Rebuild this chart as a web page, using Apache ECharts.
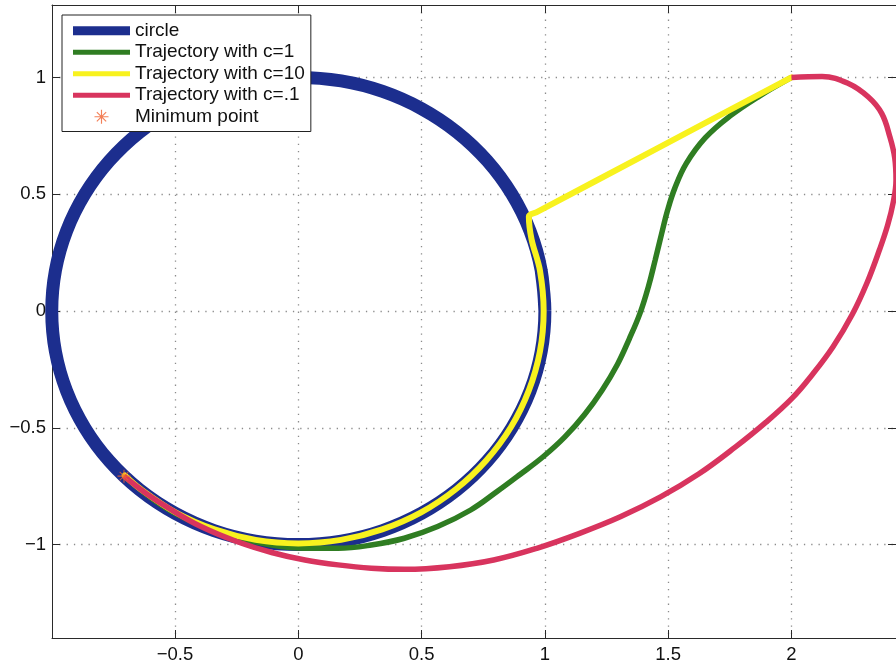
<!DOCTYPE html>
<html>
<head>
<meta charset="utf-8">
<script src="https://cdn.jsdelivr.net/npm/echarts@6/dist/echarts.min.js"></script>
<style>
  html, body { margin: 0; padding: 0; background: #fff; }
  #chart { width: 896px; height: 666px; }
</style>
</head>
<body>
<div id="chart"></div>
<script>
// Tick positions on both axes
const xTicks = [-0.5, 0, 0.5, 1, 1.5, 2];
const yTicks = [-1, -0.5, 0, 0.5, 1];

// Unit circle, 10 degree steps
const circlePts = [
  [1, 0], [0.985, 0.174], [0.940, 0.342], [0.866, 0.5], [0.766, 0.643], [0.643, 0.766],
  [0.5, 0.866], [0.342, 0.940], [0.174, 0.985], [0, 1], [-0.174, 0.985], [-0.342, 0.940],
  [-0.5, 0.866], [-0.643, 0.766], [-0.766, 0.643], [-0.866, 0.5], [-0.940, 0.342], [-0.985, 0.174],
  [-1, 0], [-0.985, -0.174], [-0.940, -0.342], [-0.866, -0.5], [-0.766, -0.643], [-0.643, -0.766],
  [-0.5, -0.866], [-0.342, -0.940], [-0.174, -0.985], [0, -1], [0.174, -0.985], [0.342, -0.940],
  [0.5, -0.866], [0.643, -0.766], [0.766, -0.643], [0.866, -0.5], [0.940, -0.342], [0.985, -0.174],
  [1, 0], [0.985, 0.174]
];

// Trajectory with c=1
const trajC1 = [
  [2.0, 1.0], [1.870, 0.920], [1.750, 0.834], [1.650, 0.741], [1.573, 0.631], [1.527, 0.526],
  [1.497, 0.429], [1.473, 0.329], [1.447, 0.217], [1.420, 0.105], [1.386, -0.009], [1.342, -0.120],
  [1.294, -0.229], [1.232, -0.339], [1.161, -0.443], [1.081, -0.539], [0.994, -0.623], [0.899, -0.700],
  [0.806, -0.773], [0.699, -0.852], [0.565, -0.923], [0.430, -0.973], [0.296, -1.002], [0.161, -1.016],
  [0.027, -1.016], [-0.108, -1.002], [-0.25, -0.968], [-0.40, -0.917], [-0.55, -0.835], [-0.707, -0.707]
];

// Trajectory with c=10
const trajC10 = [
  [2.0, 1.0], [1.45, 0.693], [0.965, 0.422], [0.935, 0.405], [0.946, 0.307], [0.980, 0.173],
  [0.995, 0.0], [0.980, -0.173], [0.935, -0.340], [0.862, -0.498], [0.762, -0.640], [0.640, -0.762],
  [0.498, -0.862], [0.340, -0.935], [0.173, -0.980], [0.0, -0.995], [-0.173, -0.980], [-0.340, -0.935],
  [-0.498, -0.862], [-0.640, -0.762], [-0.704, -0.704]
];

// Trajectory with c=.1
const trajC01 = [
  [2.0, 1.0], [2.124, 1.004], [2.231, 0.974], [2.312, 0.916], [2.366, 0.846], [2.399, 0.746],
  [2.419, 0.655], [2.424, 0.560], [2.413, 0.467], [2.390, 0.367], [2.357, 0.262], [2.307, 0.122],
  [2.247, -0.014], [2.168, -0.154], [2.081, -0.277], [2.004, -0.372], [1.897, -0.476], [1.772, -0.583],
  [1.625, -0.697], [1.469, -0.796], [1.306, -0.881], [1.138, -0.953], [0.967, -1.016], [0.792, -1.066],
  [0.613, -1.095], [0.431, -1.106], [0.296, -1.101], [0.161, -1.087], [0.027, -1.066], [-0.108, -1.034],
  [-0.25, -0.987], [-0.395, -0.923], [-0.508, -0.856], [-0.617, -0.781], [-0.707, -0.707]
];

// Minimum point
const minPoint = [[-0.707, -0.707]];

const FONT = "'Liberation Sans', Arial, Helvetica, sans-serif";
const AXIS_COLOR = '#2a2a2a';
const fmt = v => String(v).replace('-', '\u2212');

// Eight-armed asterisk marker
const STAR = 'path://M0 11L24 11L24 13L0 13Z M11 0L13 0L13 24L11 24Z ' +
             'M4.7 3.3L20.7 19.3L19.3 20.7L3.3 4.7Z M19.3 3.3L20.7 4.7L4.7 20.7L3.3 19.3Z';
// Legend line swatches
const THICK_BAR = 'path://M0 0H57V9H0Z';
const THIN_BAR = 'path://M0 0H57V5H0Z';

const gridLine = { show: true, lineStyle: { color: '#8c8c8c', width: 1.3, type: [1.3, 6] } };

const X_MIN = -0.999, X_MAX = 2.424, Y_MIN = -1.4, Y_MAX = 1.31;

const chart = echarts.init(document.getElementById('chart'), null, { renderer: 'canvas' });

chart.setOption({
  animation: false,
  backgroundColor: '#fff',
  grid: { left: 52, top: 5, right: -6, bottom: 28 },
  xAxis: [
    {
      type: 'value', min: X_MIN, max: X_MAX, position: 'bottom',
      axisLine: { show: true, onZero: false, lineStyle: { color: AXIS_COLOR, width: 1 } },
      axisTick: { show: true, inside: true, length: 8, customValues: xTicks, lineStyle: { color: AXIS_COLOR } },
      axisLabel: { customValues: xTicks, formatter: fmt, margin: 7, color: '#111', fontSize: 18.5, fontFamily: FONT },
      splitLine: gridLine
    },
    {
      type: 'value', min: X_MIN, max: X_MAX, position: 'top',
      axisLine: { show: true, onZero: false, lineStyle: { color: AXIS_COLOR, width: 1 } },
      axisTick: { show: true, inside: true, length: 8, customValues: xTicks, lineStyle: { color: AXIS_COLOR } },
      axisLabel: { show: false },
      splitLine: { show: false }
    }
  ],
  yAxis: [
    {
      type: 'value', min: Y_MIN, max: Y_MAX, position: 'left',
      axisLine: { show: true, onZero: false, lineStyle: { color: AXIS_COLOR, width: 1 } },
      axisTick: { show: true, inside: true, length: 8, customValues: yTicks, lineStyle: { color: AXIS_COLOR } },
      axisLabel: { customValues: yTicks, formatter: fmt, margin: 6, color: '#111', fontSize: 18.5, fontFamily: FONT },
      splitLine: gridLine
    },
    {
      type: 'value', min: Y_MIN, max: Y_MAX, position: 'right',
      axisLine: { show: true, onZero: false, lineStyle: { color: AXIS_COLOR, width: 1 } },
      axisTick: { show: true, inside: true, length: 8, customValues: yTicks, lineStyle: { color: AXIS_COLOR } },
      axisLabel: { show: false },
      splitLine: { show: false }
    }
  ],
  legend: {
    orient: 'vertical', left: 62, top: 15,
    itemWidth: 57, itemHeight: 14, itemGap: 0,
    padding: [5, 6, 4, 11],
    backgroundColor: '#fff', borderColor: '#222', borderWidth: 1, borderRadius: 0,
    selectedMode: false,
    textStyle: { fontSize: 19, fontFamily: FONT, color: '#111', lineHeight: 21.5 },
    data: [
      { name: 'circle', icon: THICK_BAR },
      { name: 'Trajectory with c=1', icon: THIN_BAR },
      { name: 'Trajectory with c=10', icon: THIN_BAR },
      { name: 'Trajectory with c=.1', icon: THIN_BAR },
      { name: 'Minimum point', icon: STAR }
    ]
  },
  series: [
    {
      name: 'circle', type: 'line', data: circlePts, symbol: 'none', smooth: 0.33,
      lineStyle: { color: '#1c2e8e', width: 13, join: 'round' }, itemStyle: { color: '#1c2e8e' }, z: 2
    },
    {
      name: 'Trajectory with c=1', type: 'line', data: trajC1, symbol: 'none', smooth: 0.4,
      lineStyle: { color: '#2f7d22', width: 5.5 }, itemStyle: { color: '#2f7d22' }, z: 3
    },
    {
      name: 'Trajectory with c=10', type: 'line', data: trajC10, symbol: 'none', smooth: 0.33,
      lineStyle: { color: '#f8f21e', width: 6, join: 'round', cap: 'round' }, itemStyle: { color: '#f8f21e' }, z: 4
    },
    {
      name: 'Trajectory with c=.1', type: 'line', data: trajC01, symbol: 'none', smooth: 0.4,
      lineStyle: { color: '#d8345e', width: 5.5 }, itemStyle: { color: '#d8345e' }, z: 5
    },
    {
      name: 'Minimum point', type: 'scatter', data: minPoint, symbol: STAR, symbolSize: 13,
      itemStyle: { color: '#f0602e' }, z: 6
    }
  ]
});
</script>
</body>
</html>
